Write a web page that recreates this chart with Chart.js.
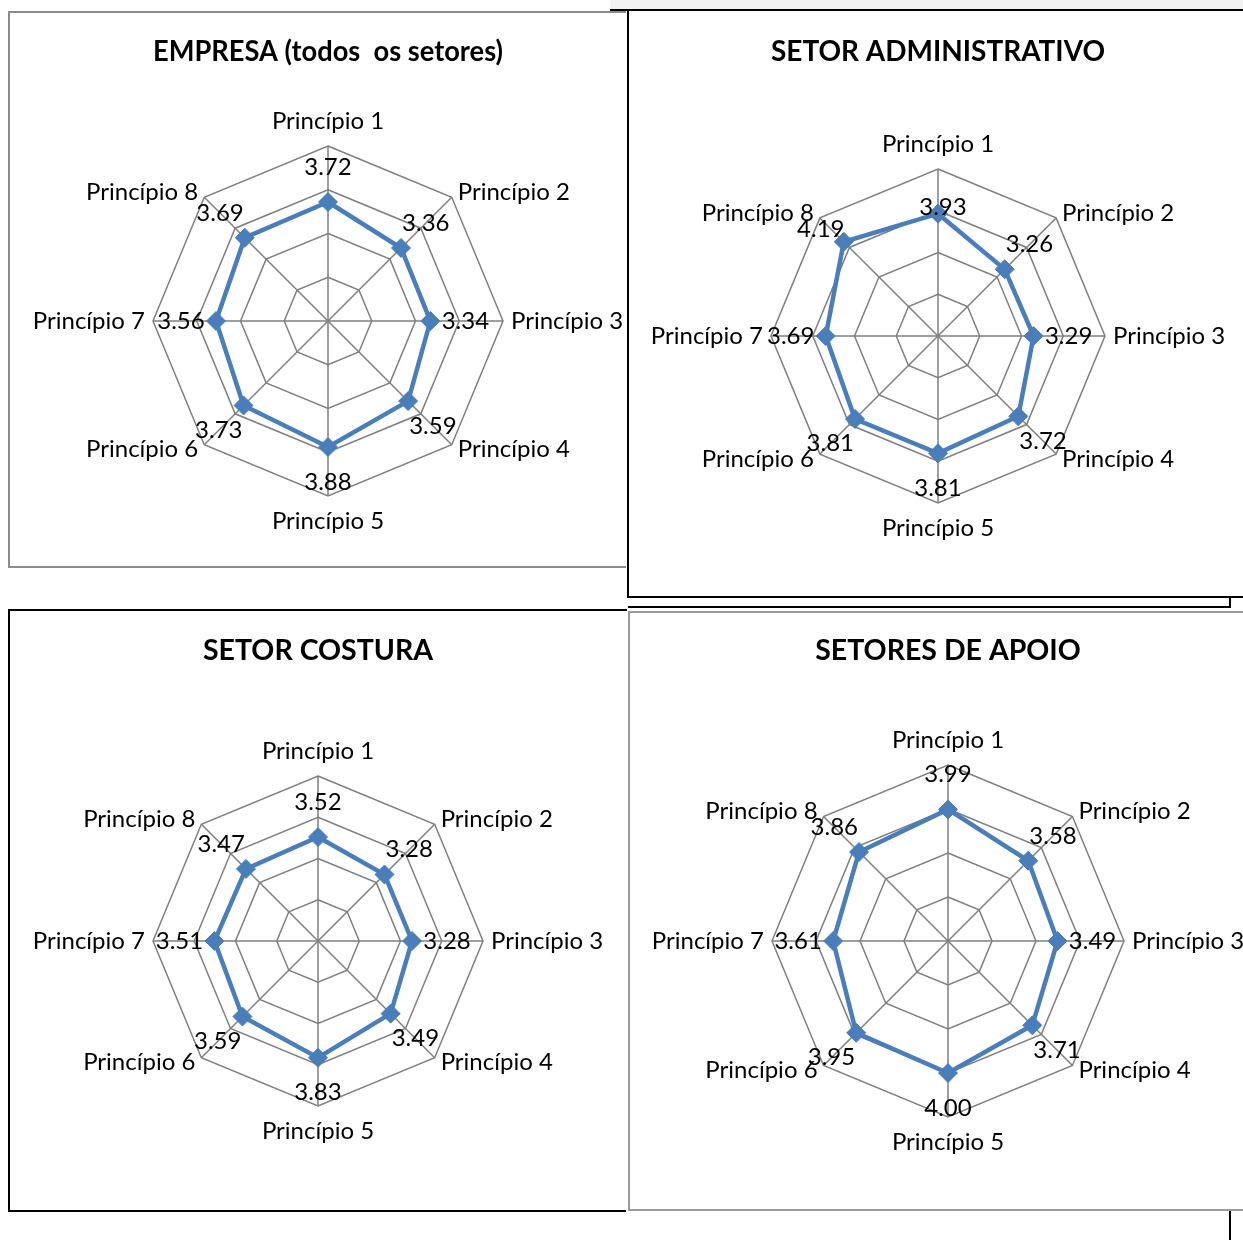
<!DOCTYPE html>
<html>
<head>
<meta charset="utf-8">
<script src="https://cdn.jsdelivr.net/npm/chart.js@4/dist/chart.umd.min.js"></script>
<style>
  html, body { margin: 0; padding: 0; background: #fff; }
  body { width: 1243px; height: 1240px; position: relative; overflow: hidden; }
  .line { position: absolute; }
  canvas { position: absolute; }
</style>
</head>
<body>
<!-- frame lines from the source document -->
<div class="line" style="left:610px;top:0;width:633px;height:9px;background:#f2f2f2"></div>
<div class="line" style="left:610px;top:9px;width:633px;height:2px;background:#000"></div>
<div class="line" style="left:8px;top:11px;width:618px;height:2px;background:#8c8c8c"></div>
<div class="line" style="left:8px;top:11px;width:2px;height:557px;background:#8c8c8c"></div>
<div class="line" style="left:8px;top:566px;width:618px;height:2px;background:#8c8c8c"></div>
<div class="line" style="left:627px;top:10px;width:2px;height:588px;background:#000"></div>
<div class="line" style="left:627px;top:596px;width:616px;height:2px;background:#000"></div>
<div class="line" style="left:1229px;top:596px;width:2px;height:12px;background:#000"></div>
<div class="line" style="left:628px;top:606px;width:603px;height:2px;background:#000"></div>
<div class="line" style="left:8px;top:609px;width:619px;height:2px;background:#000"></div>
<div class="line" style="left:8px;top:609px;width:2px;height:603px;background:#000"></div>
<div class="line" style="left:8px;top:1210px;width:618px;height:2px;background:#000"></div>
<div class="line" style="left:628px;top:611px;width:615px;height:2px;background:#9a9a9a"></div>
<div class="line" style="left:628px;top:611px;width:2px;height:600px;background:#9a9a9a"></div>
<div class="line" style="left:628px;top:1209px;width:615px;height:2px;background:#9a9a9a"></div>
<div class="line" style="left:1229px;top:1211px;width:2px;height:29px;background:#000"></div>

<canvas id="c1"></canvas>
<canvas id="c2"></canvas>
<canvas id="c3"></canvas>
<canvas id="c4"></canvas>

<script>
const principios = ['Princípio 1', 'Princípio 2', 'Princípio 3', 'Princípio 4',
                    'Princípio 5', 'Princípio 6', 'Princípio 7', 'Princípio 8'];
const empresa = [3.72, 3.36, 3.34, 3.59, 3.88, 3.73, 3.56, 3.69];
const administrativo = [3.93, 3.26, 3.29, 3.72, 3.81, 3.81, 3.69, 4.19];
const costura = [3.52, 3.28, 3.28, 3.49, 3.83, 3.59, 3.51, 3.47];
const apoio = [3.99, 3.58, 3.49, 3.71, 4.00, 3.95, 3.61, 3.86];
const escala = [1, 2, 3, 4, 5];

const FONT = 'Lato, "Liberation Sans", sans-serif';
const BLUE = '#4a7ebb';
const GRID = '#7f7f7f';
const TITLE_SIZE = 28.5;

// draws the category labels and the value labels around the radar
const radarText = {
  id: 'radarText',
  afterDatasetsDraw(chart, args, opts) {
    const scale = chart.scales.r;
    const ctx = chart.ctx;
    const cx = scale.xCenter, cy = scale.yCenter;
    ctx.save();
    ctx.fillStyle = '#000';
    ctx.font = '24px ' + FONT;
    chart.data.labels.forEach((label, i) => {
      const p = scale.getPointPosition(i, scale.drawingArea);
      const dx = p.x - cx, dy = p.y - cy;
      ctx.textBaseline = 'middle';
      if (Math.abs(dx) < 1) {
        ctx.textAlign = 'center';
        ctx.fillText(label, p.x, p.y + Math.sign(dy) * 25);
      } else if (Math.abs(dy) < 1) {
        ctx.textAlign = dx > 0 ? 'left' : 'right';
        ctx.fillText(label, p.x + Math.sign(dx) * 8, p.y);
      } else {
        ctx.textAlign = dx > 0 ? 'left' : 'right';
        ctx.fillText(label, p.x + Math.sign(dx) * 6, p.y + Math.sign(dy) * 5);
      }
    });
    const values = chart.data.datasets[0].data;
    const shift = opts.shift || {};
    values.forEach((v, i) => {
      const r = scale.getDistanceFromCenterForValue(v);
      let x, y;
      if (shift[i]) {
        const p = scale.getPointPosition(i, r);
        x = p.x + shift[i][0];
        y = p.y + shift[i][1];
      } else {
        const p = scale.getPointPosition(i, r + 35);
        x = p.x; y = p.y;
      }
      ctx.textAlign = 'center';
      ctx.textBaseline = 'middle';
      ctx.fillText(v.toFixed(2), x, y);
    });
    ctx.restore();
  }
};

function radar(id, titulo, valores, box, cx, cy, radius, titleY, shift) {
  const canvas = document.getElementById(id);
  const w = box.r - box.l, h = box.b - box.t;
  canvas.width = w;
  canvas.height = h;
  canvas.style.left = box.l + 'px';
  canvas.style.top = box.t + 'px';
  const lh = TITLE_SIZE * 1.2;
  const padTop = titleY - box.t - lh / 2;
  const padBottom = (cy - radius - box.t) - padTop - lh;

  new Chart(canvas, {
    type: 'radar',
    data: {
      labels: principios,
      datasets: [{
        data: valores,
        borderColor: BLUE,
        backgroundColor: BLUE,
        borderWidth: 4.5,
        fill: false,
        tension: 0,
        pointStyle: 'rectRot',
        pointRadius: 9.5,
        pointBorderWidth: 1,
        pointBackgroundColor: BLUE,
        pointBorderColor: BLUE
      }]
    },
    options: {
      responsive: false,
      animation: false,
      layout: {
        padding: {
          left: cx - radius - box.l,
          right: box.r - (cx + radius),
          top: 0,
          bottom: box.b - (cy + radius)
        }
      },
      plugins: {
        legend: { display: false },
        tooltip: { enabled: false },
        title: {
          display: true,
          text: titulo,
          color: '#000',
          font: { family: FONT, size: TITLE_SIZE, weight: 'bold', lineHeight: 1.2 },
          padding: { top: padTop, bottom: padBottom }
        },
        radarText: { shift: shift }
      },
      scales: {
        r: {
          min: escala[0],
          max: escala[escala.length - 1],
          ticks: { display: false, stepSize: 1 },
          grid: { color: GRID, lineWidth: 1.5 },
          angleLines: { color: GRID, lineWidth: 1.5 },
          pointLabels: { display: false }
        }
      }
    },
    plugins: [radarText]
  });
}

radar('c1', 'EMPRESA (todos  os setores)', empresa,
  { l: 10, t: 13, r: 626, b: 566 }, 328, 321, 175, 52);
radar('c2', 'SETOR ADMINISTRATIVO', administrativo,
  { l: 629, t: 12, r: 1243, b: 596 }, 938, 336, 167, 52, { 0: [5, -6], 7: [-23, -13] });
radar('c3', 'SETOR COSTURA', costura,
  { l: 10, t: 611, r: 626, b: 1210 }, 318, 941, 165, 651);
radar('c4', 'SETORES DE APOIO', apoio,
  { l: 630, t: 613, r: 1243, b: 1209 }, 948, 941, 176, 651);
</script>
</body>
</html>
